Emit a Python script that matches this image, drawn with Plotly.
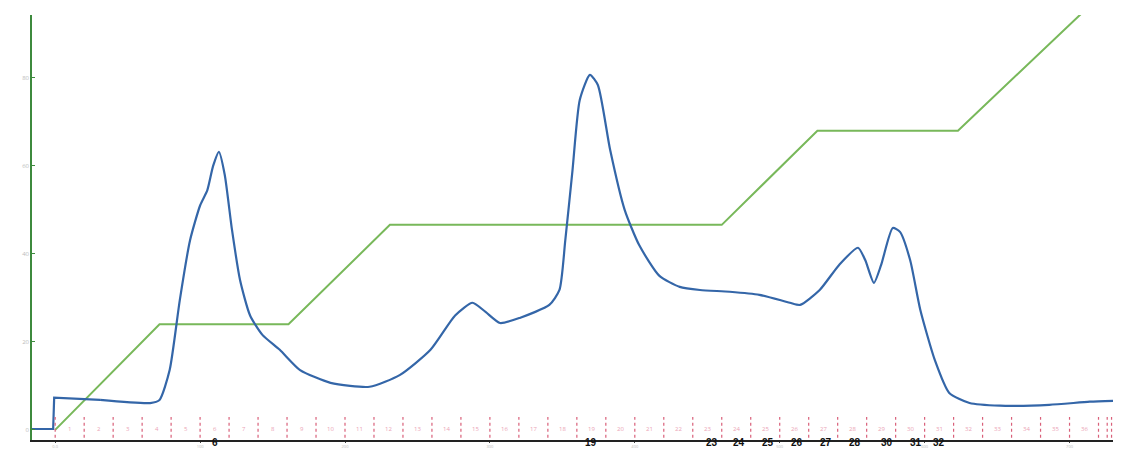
import plotly.graph_objects as go

# UV trace (volume ml, absorbance units)
uv_x = [-16, -1.4, -0.7, 31, 65.5, 72, 79, 86, 93, 100, 105, 109, 113, 117, 122, 127.6, 134.5, 143,
        155, 169, 190, 217, 238, 259, 276, 288, 297, 307, 321, 341, 348, 352, 357, 362, 369, 374.5,
        383, 393, 403, 417, 431, 445, 465.5, 486, 507, 514, 527.6, 541, 554, 559, 565, 570, 578,
        583, 590, 597, 607, 617, 631, 652, 686, 714, 730]
uv_y = [0.2, 0.2, 7.3, 6.8, 6.1, 6.8, 13.6, 29.5, 43, 51, 54.5, 60, 63.2, 58, 45.5, 34, 26, 21.6,
        18.2, 13.6, 10.7, 9.8, 12.5, 18.2, 26, 28.9, 26.8, 24.3, 25.5, 28.4, 31.8, 43, 59, 75, 80.7, 78.4,
        63.6, 50, 42, 35, 32.5, 31.8, 31.4, 30.7, 28.9, 28.4, 31.8, 37.5, 41.4, 38.6, 33.4, 37.5, 45.9,
        45, 38.6, 27.3, 15.9, 8.4, 6.1, 5.5, 5.7, 6.4, 6.6]

# Gradient (%B)
grad_x = [0, 72, 161, 231, 460, 526, 623, 735]
grad_y = [0, 24, 24, 46.6, 46.6, 68, 68, 103]

# Fractions (20 ml each)
frac_edges = [i * 20 for i in range(37)] + [726, 729]
frac_nums = list(range(1, 37))

# Marked fractions
mark_labels = ["6", "19", "23", "24", "25", "26", "27", "28", "30", "31", "32"]
mark_x = [110, 370, 453, 472, 492, 512, 532, 552, 574, 594, 610]

x_ticks = [0, 100, 200, 300, 400, 500, 600, 700]
x_tick_text = ["0.0", "100", "200", "300", "400", "500", "600", "700"]
y_ticks = [0, 20, 40, 60, 80]

fig = go.Figure()
fig.add_trace(go.Scatter(x=grad_x, y=grad_y, mode="lines",
                         line=dict(color="#78b85a", width=2), hoverinfo="skip"))
# baseline + injection step (straight), then smooth UV profile
fig.add_trace(go.Scatter(x=uv_x[:4], y=uv_y[:4], mode="lines",
                         line=dict(color="#3466a8", width=2.2), hoverinfo="skip"))
fig.add_trace(go.Scatter(x=uv_x[3:], y=uv_y[3:], mode="lines",
                         line=dict(color="#3466a8", width=2.2, shape="spline", smoothing=0.6),
                         hoverinfo="skip"))

shapes = []
for e in frac_edges:
    shapes.append(dict(type="line", xref="x", yref="y", x0=e, x1=e, y0=-1.8, y1=2.9,
                       line=dict(color="#d9607a", width=1.2, dash="dot")))
fig.update_layout(shapes=shapes)

annotations = []
for n in frac_nums:
    annotations.append(dict(x=(n - 1) * 20 + 10, y=0.3, xref="x", yref="y", text=str(n),
                            showarrow=False, font=dict(size=6, color="#eba3b5")))
for t, xv in zip(mark_labels, mark_x):
    annotations.append(dict(x=xv, y=-9 / 425, xref="x", yref="paper", yanchor="bottom",
                            text="<b>" + t + "</b>", showarrow=False, borderpad=0,
                            font=dict(size=10, color="#111111", family="Liberation Sans")))
fig.update_layout(annotations=annotations)

# page body has an 8px margin, so the figure is sized/offset to compensate
fig.update_layout(
    width=1117, height=441,
    margin=dict(l=24, r=12, t=7, b=9, autoexpand=False),
    plot_bgcolor="white", paper_bgcolor="white",
    showlegend=False,
    xaxis=dict(range=[-16, 730], tickvals=x_ticks, ticktext=x_tick_text, showgrid=False, zeroline=False,
               automargin=False,
               showline=True, linecolor="#222222", linewidth=2, ticks="outside", ticklen=1,
               tickcolor="#444444", tickfont=dict(size=4, color="#bbbbbb")),
    yaxis=dict(range=[-2.3, 94.3], tickvals=y_ticks, showgrid=False, zeroline=False,
               automargin=False,
               showline=True, linecolor="#3d8a3d", linewidth=1.5, ticks="inside", ticklen=3,
               tickcolor="#3d8a3d", tickfont=dict(size=6, color="#bbbbbb")),
)

fig.write_html("out.html")
